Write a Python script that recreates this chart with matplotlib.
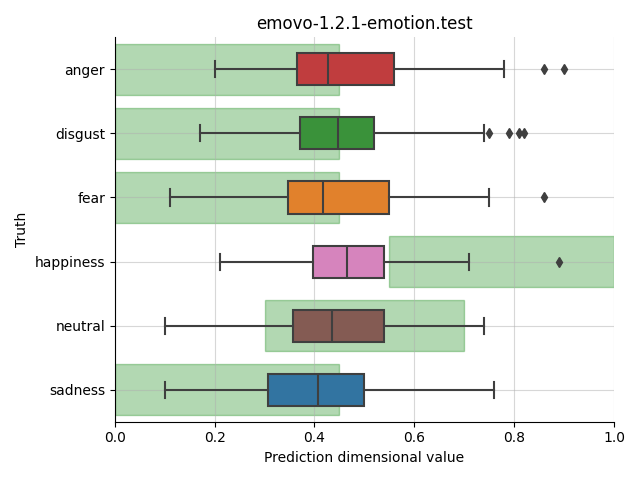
import colorsys
import matplotlib
matplotlib.use("Agg")
import matplotlib.pyplot as plt
import matplotlib.colors as mcolors

emotions = ["anger", "disgust", "fear", "happiness", "neutral", "sadness"]
colors = ["tab:red", "tab:green", "tab:orange", "tab:pink", "tab:brown", "tab:blue"]

# box statistics
whislo = [0.20, 0.17, 0.11, 0.21, 0.10, 0.10]
q1 = [0.366, 0.372, 0.346, 0.398, 0.358, 0.306]
med = [0.428, 0.448, 0.418, 0.465, 0.435, 0.408]
q3 = [0.560, 0.520, 0.549, 0.539, 0.539, 0.500]
whishi = [0.780, 0.739, 0.750, 0.709, 0.739, 0.760]
fliers = [[0.86, 0.90], [0.75, 0.79, 0.81, 0.82], [0.86], [0.89], [], []]

# expected range for each emotion (green bands)
range_lo = [0.0, 0.0, 0.0, 0.55, 0.3, 0.0]
range_hi = [0.45, 0.45, 0.45, 1.0, 0.7, 0.45]


def desat(c, prop=0.75):
    r, g, b = mcolors.to_rgb(c)
    h, l, s = colorsys.rgb_to_hls(r, g, b)
    return colorsys.hls_to_rgb(h, l, s * prop)


fig, ax = plt.subplots(figsize=(6.4, 4.8), dpi=100)

pos = list(range(len(emotions)))
widths = [hi - lo for lo, hi in zip(range_lo, range_hi)]
ax.barh(pos, widths, left=range_lo, height=0.8, color="green", alpha=0.3,
        edgecolor="green", linewidth=1, zorder=0.5)

stats = []
for i, e in enumerate(emotions):
    stats.append(dict(label=e, whislo=whislo[i], q1=q1[i], med=med[i],
                      q3=q3[i], whishi=whishi[i], fliers=fliers[i]))

line_col = "#3f3f3f"
bp = ax.bxp(stats, positions=pos, vert=False, widths=0.5, patch_artist=True,
            boxprops=dict(edgecolor=line_col, linewidth=1.5),
            medianprops=dict(color=line_col, linewidth=1.5),
            whiskerprops=dict(color=line_col, linewidth=1.5),
            capprops=dict(color=line_col, linewidth=1.5),
            flierprops=dict(marker="d", markerfacecolor=line_col,
                            markeredgecolor=line_col, markersize=5))
for box, c in zip(bp["boxes"], colors):
    box.set_facecolor(desat(c))

ax.set_xlim(0, 1)
ax.set_ylim(5.5, -0.5)
ax.set_yticks(pos)
ax.set_yticklabels(emotions)
ax.grid(alpha=0.5)
ax.spines["top"].set_visible(False)
ax.spines["right"].set_visible(False)
ax.set_title("emovo-1.2.1-emotion.test")
ax.set_xlabel("Prediction dimensional value")
ax.set_ylabel("Truth")
fig.tight_layout()
fig.savefig("out.png")
